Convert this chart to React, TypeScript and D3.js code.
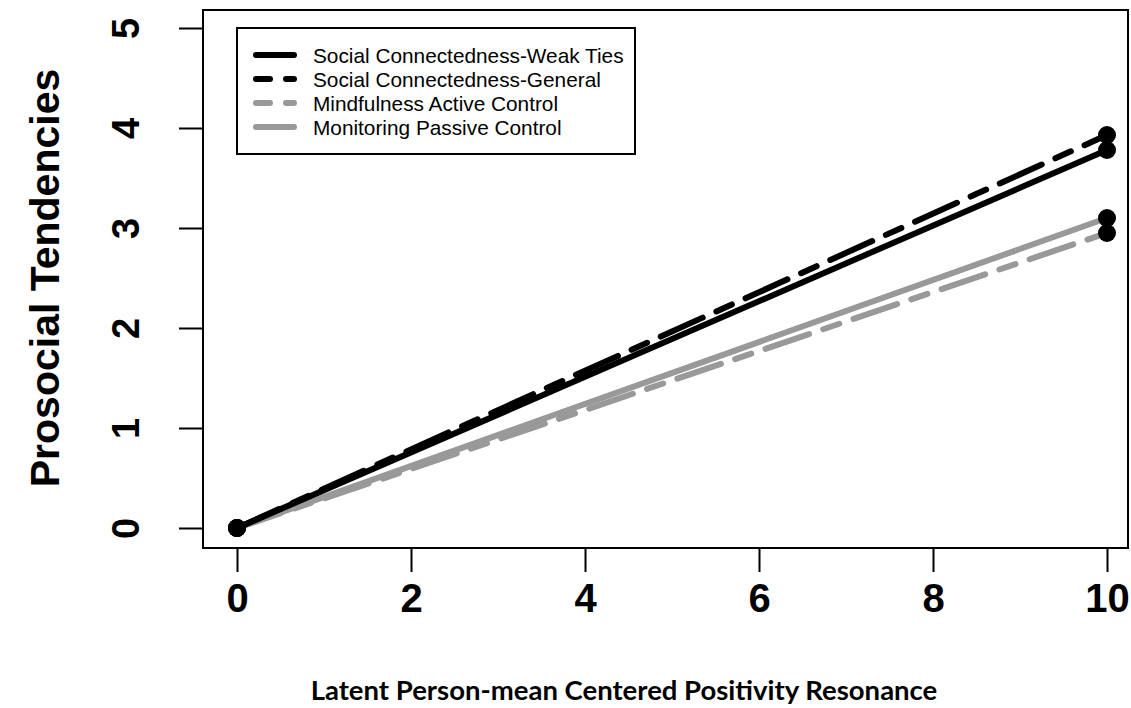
import * as d3 from "d3";
import React, { useRef, useEffect } from "react";

const xStart = 0;
const xEnd = 10;
const seriesNames = [
  "Social Connectedness-Weak Ties",
  "Social Connectedness-General",
  "Mindfulness Active Control",
  "Monitoring Passive Control",
];
const startValues = [0, 0, 0, 0];
const endValues = [3.78, 3.93, 2.95, 3.1];
const seriesColors = ["#000000", "#000000", "#999999", "#999999"];
const seriesDashed = [false, true, true, false];
const xTicks = [0, 2, 4, 6, 8, 10];
const yTicks = [0, 1, 2, 3, 4, 5];

const W = 1131;
const H = 708;

export default function App() {
  const ref = useRef<SVGSVGElement>(null);

  useEffect(() => {
    const svg = d3.select(ref.current);
    svg.selectAll("*").remove();

    const x = d3.scaleLinear().domain([0, 10]).range([237, 1107]);
    const y = d3.scaleLinear().domain([0, 5]).range([528, 28]);

    // plot box
    svg
      .append("rect")
      .attr("x", 203)
      .attr("y", 10)
      .attr("width", 925)
      .attr("height", 538)
      .attr("fill", "none")
      .attr("stroke", "#000")
      .attr("stroke-width", 2);

    const xAxis = svg
      .append("g")
      .attr("transform", "translate(0,548)")
      .call(d3.axisBottom(x).tickValues(xTicks).tickSize(24).tickPadding(12).tickFormat(d3.format("d")));
    xAxis.select(".domain").attr("d", `M${x(0)},0H${x(10)}`).attr("stroke-width", 2);
    xAxis.selectAll(".tick line").attr("stroke-width", 2);
    xAxis
      .selectAll(".tick text")
      .attr("font-family", "Liberation Sans, Arial, sans-serif")
      .attr("font-weight", "bold")
      .attr("font-size", 40)
      .attr("fill", "#000");

    const yAxis = svg
      .append("g")
      .attr("transform", "translate(203,0)")
      .call(d3.axisLeft(y).tickValues(yTicks).tickSize(24).tickFormat(d3.format("d")));
    yAxis.select(".domain").attr("d", `M0,${y(0)}V${y(5)}`).attr("stroke-width", 2);
    yAxis.selectAll(".tick line").attr("stroke-width", 2);
    yAxis
      .selectAll(".tick text")
      .attr("x", 0)
      .attr("text-anchor", "middle")
      .attr("transform", "translate(-76,0) rotate(-90)")
      .attr("font-family", "Liberation Sans, Arial, sans-serif")
      .attr("font-weight", "bold")
      .attr("font-size", 38)
      .attr("dominant-baseline", "middle")
      .attr("dy", "0.05em")
      .attr("fill", "#000");

    // axis titles
    svg
      .append("text")
      .attr("transform", `translate(59,${278}) rotate(-90)`)
      .attr("text-anchor", "middle")
      .attr("font-family", "Liberation Sans, Arial, sans-serif")
      .attr("font-weight", "bold")
      .attr("font-size", 41)
      .text("Prosocial Tendencies");

    svg
      .append("text")
      .attr("x", 624)
      .attr("y", 700)
      .attr("text-anchor", "middle")
      .attr("font-family", "Lato, sans-serif")
      .attr("font-weight", "bold")
      .attr("font-size", 27.5)
      .text("Latent Person-mean Centered Positivity Resonance");

    const order = [3, 2, 0, 1];
    const line = d3
      .line<[number, number]>()
      .x((d) => x(d[0]))
      .y((d) => y(d[1]));

    order.forEach((i) => {
      svg
        .append("path")
        .attr("d", line([[xStart, startValues[i]], [xEnd, endValues[i]]]))
        .attr("fill", "none")
        .attr("stroke", seriesColors[i])
        .attr("stroke-width", 6)
        .attr("stroke-linecap", "round")
        .attr("stroke-dasharray", seriesDashed[i] ? "46 15 17 15" : null);
    });

    order.forEach((i) => {
      svg
        .append("circle")
        .attr("cx", x(xStart))
        .attr("cy", y(startValues[i]))
        .attr("r", 9)
        .attr("fill", "#000");
      svg
        .append("circle")
        .attr("cx", x(xEnd))
        .attr("cy", y(endValues[i]))
        .attr("r", 9)
        .attr("fill", "#000");
    });

    // legend
    const lg = svg.append("g");
    lg.append("rect")
      .attr("x", 237)
      .attr("y", 28)
      .attr("width", 398)
      .attr("height", 126)
      .attr("fill", "#fff")
      .attr("stroke", "#000")
      .attr("stroke-width", 2);
    seriesNames.forEach((name, i) => {
      const yy = 55 + i * 24;
      lg.append("line")
        .attr("x1", 256)
        .attr("x2", 294)
        .attr("y1", yy)
        .attr("y2", yy)
        .attr("stroke", seriesColors[i])
        .attr("stroke-width", 6)
        .attr("stroke-linecap", "round")
        .attr("stroke-dasharray", seriesDashed[i] ? "14 16 8 16" : null);
      lg.append("text")
        .attr("x", 313)
        .attr("y", yy)
        .attr("dominant-baseline", "central")
        .attr("font-family", "Liberation Sans, Arial, sans-serif")
        .attr("font-size", 20.8)
        .text(name);
    });
  }, []);

  return <svg ref={ref} width={W} height={H} style={{ position: "absolute", left: 0, top: 0 }}></svg>;
}
